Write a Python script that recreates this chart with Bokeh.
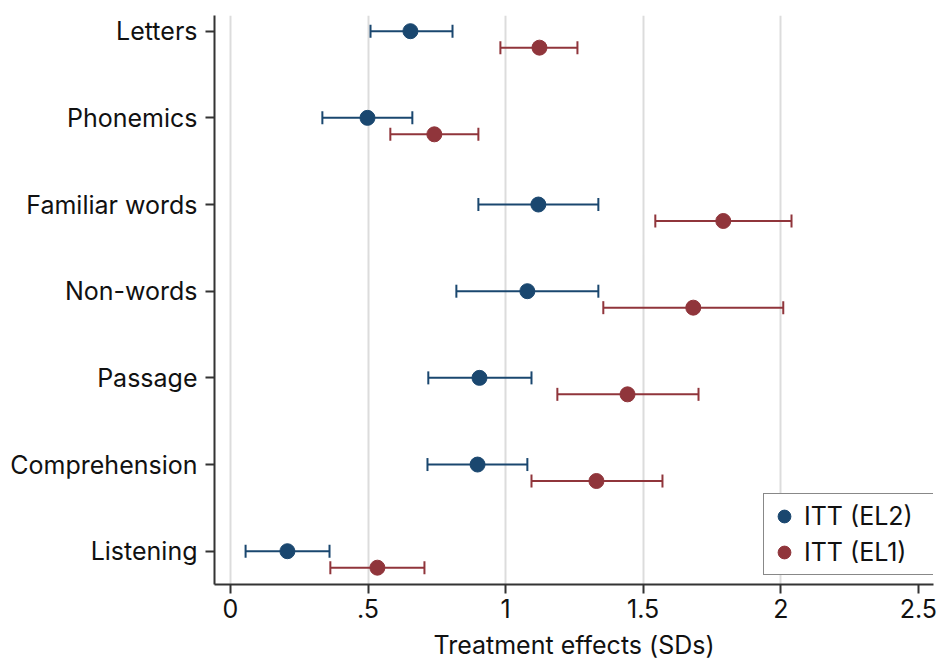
from bokeh.plotting import figure
from bokeh.models import (ColumnDataSource, Whisker, TeeHead, FixedTicker, Range1d,
                          Legend, LegendItem)
from bokeh.embed import file_html
from bokeh.resources import INLINE

categories = ["Letters", "Phonemics", "Familiar words", "Non-words",
              "Passage", "Comprehension", "Listening"]
el2_est = [0.654, 0.498, 1.119, 1.079, 0.905, 0.898, 0.207]
el2_lo = [0.509, 0.334, 0.901, 0.821, 0.719, 0.716, 0.055]
el2_hi = [0.807, 0.661, 1.337, 1.337, 1.094, 1.079, 0.360]
el1_est = [1.123, 0.741, 1.791, 1.682, 1.443, 1.330, 0.534]
el1_lo = [0.981, 0.581, 1.544, 1.355, 1.188, 1.094, 0.363]
el1_hi = [1.261, 0.901, 2.039, 2.009, 1.701, 1.570, 0.705]
x_ticks = [0, 0.5, 1, 1.5, 2, 2.5]
x_tick_labels = ["0", ".5", "1", "1.5", "2", "2.5"]
x_title = "Treatment effects (SDs)"
series_labels = ["ITT (EL2)", "ITT (EL1)"]

BLUE = "#1a476f"
RED = "#90353b"
FONT = "Inter"
FS = "25px"

n = len(categories)
ypos = [float(n - i) for i in range(n)]
offset = 0.19
y_el1 = [y - offset for y in ypos]

src2 = ColumnDataSource(dict(y=ypos, est=el2_est, lo=el2_lo, hi=el2_hi))
src1 = ColumnDataSource(dict(y=y_el1, est=el1_est, lo=el1_lo, hi=el1_hi))

p = figure(width=938, height=664, output_backend="svg", toolbar_location=None,
           x_range=Range1d(-0.058, 2.555), y_range=Range1d(0.616, 7.181),
           min_border_left=214, min_border_right=5, min_border_top=15,
           min_border_bottom=80)
p.outline_line_color = None
p.background_fill_color = "white"
p.border_fill_color = "white"

# grid
p.ygrid.visible = False
p.xgrid.ticker = FixedTicker(ticks=x_ticks[:-1])
p.xgrid.grid_line_color = "#dcdcdc"
p.xgrid.grid_line_width = 2

for src, col in ((src2, BLUE), (src1, RED)):
    w = Whisker(source=src, base="y", lower="lo", upper="hi", dimension="width",
                line_color=col, line_width=2,
                lower_head=TeeHead(size=13, line_color=col, line_width=2),
                upper_head=TeeHead(size=13, line_color=col, line_width=2))
    p.add_layout(w)

r2 = p.scatter("est", "y", source=src2, size=15, fill_color=BLUE, line_color=BLUE)
r1 = p.scatter("est", "y", source=src1, size=15, fill_color=RED, line_color=RED)

# axes
p.xaxis.ticker = FixedTicker(ticks=x_ticks)
p.xaxis.major_label_overrides = {t: l for t, l in zip(x_ticks, x_tick_labels)}
p.xaxis.axis_label = x_title
p.yaxis.ticker = FixedTicker(ticks=ypos)
p.yaxis.major_label_overrides = {y: c for y, c in zip(ypos, categories)}

for ax in (p.xaxis[0], p.yaxis[0]):
    ax.axis_line_color = "#333333"
    ax.axis_line_width = 2
    ax.major_tick_line_color = "#333333"
    ax.major_tick_line_width = 2
    ax.major_tick_out = 9
    ax.major_tick_in = 0
    ax.minor_tick_line_color = None
    ax.major_label_text_font = FONT
    ax.major_label_text_font_size = FS
    ax.major_label_text_color = "#111111"
    ax.axis_label_text_font = FONT
    ax.axis_label_text_font_size = FS
    ax.axis_label_text_font_style = "normal"
    ax.axis_label_text_color = "#111111"

p.xaxis.major_label_standoff = 5
p.xaxis.axis_label_standoff = 9
p.yaxis.major_label_standoff = 8

legend = Legend(items=[LegendItem(label=series_labels[0], renderers=[r2]),
                       LegendItem(label=series_labels[1], renderers=[r1])],
                location=(549, 9), padding=4, spacing=0, label_height=36,
                label_width=130, glyph_width=32, glyph_height=36, label_standoff=4,
                label_text_font=FONT, label_text_font_size=FS,
                label_text_color="#111111",
                border_line_color="#111111", border_line_width=1.5,
                background_fill_color="white", background_fill_alpha=1,
                margin=0)
p.add_layout(legend, "center")

open("out.html", "w").write(file_html(p, INLINE))
